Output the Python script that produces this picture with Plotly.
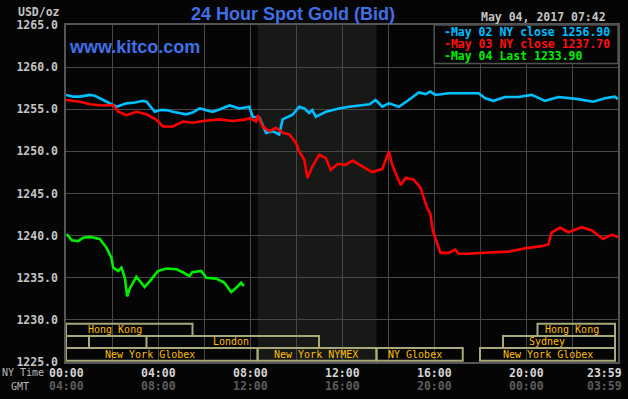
import plotly.graph_objects as go

# ---------------- data ----------------
hours_may02 = [0.00, 0.30, 0.61, 1.04, 1.25, 1.47, 1.91, 2.20, 2.63, 3.00, 3.35, 3.50, 3.86, 4.10, 4.36, 4.65,
               5.23, 5.50, 5.81, 6.10, 6.38, 6.70, 7.11, 7.54, 7.97, 8.12, 8.41, 8.70, 8.98, 9.27, 9.42,
               9.85, 10.14, 10.36, 10.57, 10.71, 10.86, 11.30, 11.87, 12.31, 12.88, 13.20, 13.46, 13.75,
               14.04, 14.47, 14.90, 15.34, 15.63, 15.84, 16.06, 16.64, 17.07, 17.94, 18.23, 18.59, 19.09,
               19.67, 20.25, 20.83, 21.41, 22.27, 22.92, 23.43, 23.86, 24.00]
price_may02 = [1256.7, 1256.5, 1256.5, 1256.7, 1256.6, 1256.3, 1255.7, 1255.3, 1255.7, 1255.8, 1256.0, 1255.9,
               1254.7, 1254.9, 1254.9, 1254.7, 1254.4, 1254.6, 1255.1, 1254.9, 1254.7, 1255.0, 1255.45, 1255.1,
               1255.3, 1254.1, 1254.0, 1252.2, 1252.4, 1252.0, 1253.8, 1254.35, 1255.3, 1255.1, 1254.55,
               1254.9, 1254.1, 1254.7, 1255.1, 1255.3, 1255.5, 1255.6, 1256.1, 1255.3, 1255.7, 1255.3,
               1256.1, 1257.0, 1256.8, 1257.1, 1256.7, 1256.9, 1256.9, 1256.9, 1256.3, 1256.0, 1256.45,
               1256.45, 1256.7, 1256.0, 1256.45, 1256.2, 1255.9, 1256.3, 1256.5, 1256.2]

hours_may03 = [0.00, 0.61, 1.04, 1.62, 2.05, 2.27, 2.63, 3.06, 3.50, 3.93, 4.22, 4.65, 5.08, 5.52, 5.95, 6.67,
               7.25, 7.83, 7.97, 8.26, 8.33, 8.55, 8.84, 9.13, 9.42, 9.71, 10.00, 10.14, 10.36, 10.50,
               10.71, 11.01, 11.30, 11.51, 11.80, 12.16, 12.45, 12.88, 13.31, 13.75, 13.90, 14.04, 14.18,
               14.55, 14.76, 15.12, 15.41, 15.70, 15.84, 15.95, 16.13, 16.28, 16.64, 16.93, 17.07, 17.50,
               18.37, 19.24, 20.10, 20.68, 20.97, 21.11, 21.48, 21.84, 22.42, 22.85, 23.35, 23.71, 24.00]
price_may03 = [1256.1, 1255.9, 1255.6, 1255.45, 1255.5, 1254.7, 1254.3, 1254.7, 1254.4, 1253.75, 1252.95,
               1252.95, 1253.55, 1253.4, 1253.6, 1253.8, 1253.6, 1253.8, 1253.95, 1253.55, 1254.3, 1252.95,
               1252.4, 1252.8, 1252.2, 1252.0, 1251.0, 1250.0, 1249.0, 1246.85, 1248.2, 1249.6, 1249.2,
               1247.8, 1248.5, 1248.4, 1248.9, 1248.2, 1247.55, 1247.9, 1249.0, 1250.0, 1248.4, 1246.0,
               1246.85, 1246.65, 1245.7, 1243.3, 1242.6, 1240.6, 1239.15, 1237.95, 1237.95, 1238.35,
               1237.85, 1237.85, 1238.0, 1238.1, 1238.55, 1238.75, 1238.95, 1240.35, 1240.95, 1240.4,
               1241.0, 1240.65, 1239.6, 1240.1, 1239.85]

hours_may04 = [0.03, 0.25, 0.53, 0.75, 1.04, 1.47, 1.76, 1.98, 2.05, 2.27, 2.41, 2.56, 2.66, 2.77, 3.06,
               3.42, 3.71, 4.00, 4.36, 4.80, 5.08, 5.37, 5.49, 5.88, 6.10, 6.53, 6.89, 7.18, 7.40, 7.61, 7.73]
price_may04 = [1240.2, 1239.45, 1239.35, 1239.75, 1239.85, 1239.6, 1238.55, 1237.35, 1236.2, 1235.8, 1236.2,
               1235.0, 1232.8, 1233.7, 1235.1, 1233.9, 1234.8, 1235.8, 1236.1, 1236.0, 1235.65, 1235.2,
               1235.65, 1235.8, 1235.0, 1234.9, 1234.4, 1233.3, 1233.8, 1234.4, 1234.0]

legend_labels = ["-May 02 NY close 1256.90", "-May 03 NY close 1237.70", "-May 04 Last 1233.90"]

tick_hours = [0, 4, 8, 12, 16, 20, 24]
ny_time_labels = ["00:00", "04:00", "08:00", "12:00", "16:00", "20:00", "23:59"]
gmt_labels = ["04:00", "08:00", "12:00", "16:00", "20:00", "00:00", "03:59"]

# market sessions (row 1 = top)
session_names = ["Hong Kong", "Hong Kong", "", "London", "Sydney",
                 "New York Globex", "New York NYMEX", "NY Globex", "New York Globex"]
session_rows = [1, 1, 2, 2, 2, 3, 3, 3, 3]
session_starts = [0.0, 20.5, 0.0, 3.5, 19.0, 0.0, 8.33, 13.5, 18.0]
session_ends = [5.5, 23.87, 1.0, 11.0, 23.87, 8.33, 13.5, 17.25, 23.87]
session_label_hours = [2.12, 22.0, 0.5, 7.18, 20.93, 3.64, 10.88, 15.18, 20.95]

nymex_start, nymex_end = 8.33, 13.5

# ---------------- figure ----------------
BG = "#050506"
GRID = "#474747"
fig = go.Figure()

fig.add_trace(go.Scatter(x=hours_may02, y=price_may02, mode="lines",
                         line=dict(color="#00bfff", width=2.6), showlegend=False, hoverinfo="skip"))
fig.add_trace(go.Scatter(x=hours_may03, y=price_may03, mode="lines",
                         line=dict(color="#ff0000", width=2.6), showlegend=False, hoverinfo="skip"))
fig.add_trace(go.Scatter(x=hours_may04, y=price_may04, mode="lines",
                         line=dict(color="#00ee00", width=2.6), showlegend=False, hoverinfo="skip"))

shapes = []
# NYMEX shaded band
shapes.append(dict(type="rect", xref="x", yref="y", x0=nymex_start, x1=nymex_end, y0=1225, y1=1265,
                   fillcolor="#161916", line=dict(width=0), layer="below"))

row_bounds = {1: (1228.1, 1229.55), 2: (1226.65, 1228.1), 3: (1225.15, 1226.65)}
annotations = []
for name, row, s, e, lh in zip(session_names, session_rows, session_starts, session_ends, session_label_hours):
    y0, y1 = row_bounds[row]
    shapes.append(dict(type="rect", xref="x", yref="y", x0=s, x1=e, y0=y0, y1=y1,
                       fillcolor="rgba(0,0,0,0)", line=dict(color="#a8a878", width=2), layer="above"))
    if name:
        annotations.append(dict(x=lh, y=(y0 + y1) / 2, xref="x", yref="y", text=name, showarrow=False,
                                xanchor="center", yanchor="middle", borderpad=0,
                                font=dict(family="DejaVu Sans Mono", size=10, color="#ffbf00")))

# legend box (paper coords)
shapes.append(dict(type="rect", xref="paper", yref="paper", x0=0.667, x1=1.0, y0=0.886, y1=1.0,
                   fillcolor=BG, line=dict(color="#505050", width=1.5), layer="above"))

legend_colors = ["#00bfff", "#ff1010", "#00ee00"]
legend_y_px = [32, 44, 56]
for lbl, col, ypx in zip(legend_labels, legend_colors, legend_y_px):
    annotations.append(dict(x=(444 - 66) / 554, y=(362 - ypx) / 337, xref="paper", yref="paper",
                            text=lbl, showarrow=False, xanchor="left", yanchor="middle", borderpad=0,
                            font=dict(family="DejaVu Sans Mono", size=11.5, color=col, weight="bold")))

# x tick labels (two rows)
for h, ny, gmt in zip(tick_hours, ny_time_labels, gmt_labels):
    anchor = "right" if h == 24 else "center"
    shift = 5 if h == 24 else 0
    annotations.append(dict(x=h, y=(362 - 372.7) / 337, xref="x", yref="paper", text=ny, showarrow=False,
                            xanchor=anchor, yanchor="middle", xshift=shift, borderpad=0,
                            font=dict(family="DejaVu Sans Mono", size=11.5, color="#d4d4d4", weight="bold")))
    annotations.append(dict(x=h, y=(362 - 386) / 337, xref="x", yref="paper", text=gmt, showarrow=False,
                            xanchor=anchor, yanchor="middle", xshift=shift, borderpad=0,
                            font=dict(family="DejaVu Sans Mono", size=11.5, color="#5c5c5c", weight="bold")))

annotations.append(dict(x=(1 - 66) / 554, y=(362 - 372.7) / 337, xref="paper", yref="paper", text="NY Time",
                        showarrow=False, xanchor="left", yanchor="middle", borderpad=0,
                        font=dict(family="DejaVu Sans Mono", size=10, color="#b8b8b8")))
annotations.append(dict(x=(19.4 - 66) / 554, y=(362 - 386) / 337, xref="paper", yref="paper", text="GMT",
                        showarrow=False, xanchor="center", yanchor="middle", borderpad=0,
                        font=dict(family="DejaVu Sans Mono", size=10, color="#b8b8b8")))

# title, site, timestamp, unit
annotations.append(dict(x=(294 - 66) / 554, y=(362 - 14) / 337, xref="paper", yref="paper",
                        text="24 Hour Spot Gold (Bid)", showarrow=False, xanchor="center", yanchor="middle",
                        borderpad=0,
                        font=dict(family="Liberation Sans", size=18, color="#4070e8", weight="bold")))
annotations.append(dict(x=(68 - 66) / 554, y=(362 - 47) / 337, xref="paper", yref="paper",
                        text="www.kitco.com", showarrow=False, xanchor="left", yanchor="middle", borderpad=0,
                        font=dict(family="Liberation Sans", size=18, color="#4070e8", weight="bold")))
annotations.append(dict(x=(609 - 66) / 554, y=(362 - 17) / 337, xref="paper", yref="paper",
                        text="May 04, 2017 07:42", showarrow=False, xanchor="right", yanchor="middle",
                        borderpad=0,
                        font=dict(family="DejaVu Sans Mono", size=11.5, color="#c4c4c4", weight="bold")))
annotations.append(dict(x=(61 - 66) / 554, y=(362 - 12) / 337, xref="paper", yref="paper",
                        text="USD/oz", showarrow=False, xanchor="right", yanchor="middle", borderpad=0,
                        font=dict(family="DejaVu Sans Mono", size=11.5, color="#c4c4c4", weight="bold")))

fig.update_layout(
    width=628, height=399,
    margin=dict(l=66, r=8, t=25, b=37),
    paper_bgcolor=BG, plot_bgcolor=BG,
    shapes=shapes, annotations=annotations,
    showlegend=False,
    xaxis=dict(range=[0, 24], dtick=2, tick0=0, showgrid=True, gridcolor=GRID, gridwidth=1,
               showticklabels=False, zeroline=False, showline=True, linecolor="#555555", linewidth=1.5,
               mirror=True, fixedrange=True),
    yaxis=dict(range=[1225, 1265], dtick=5, tick0=1225, tickformat=".1f", showgrid=True, gridcolor=GRID,
               gridwidth=1, zeroline=False, showline=True, linecolor="#555555", linewidth=1.5, mirror=True,
               ticks="", ticklabelstandoff=4,
               tickfont=dict(family="DejaVu Sans Mono", size=11.5, color="#c4c4c4", weight="bold"),
               fixedrange=True),
)

fig.write_html("out.html", config={"displayModeBar": False},
               post_script="document.body.style.margin='0';document.body.style.background='#050506';")
